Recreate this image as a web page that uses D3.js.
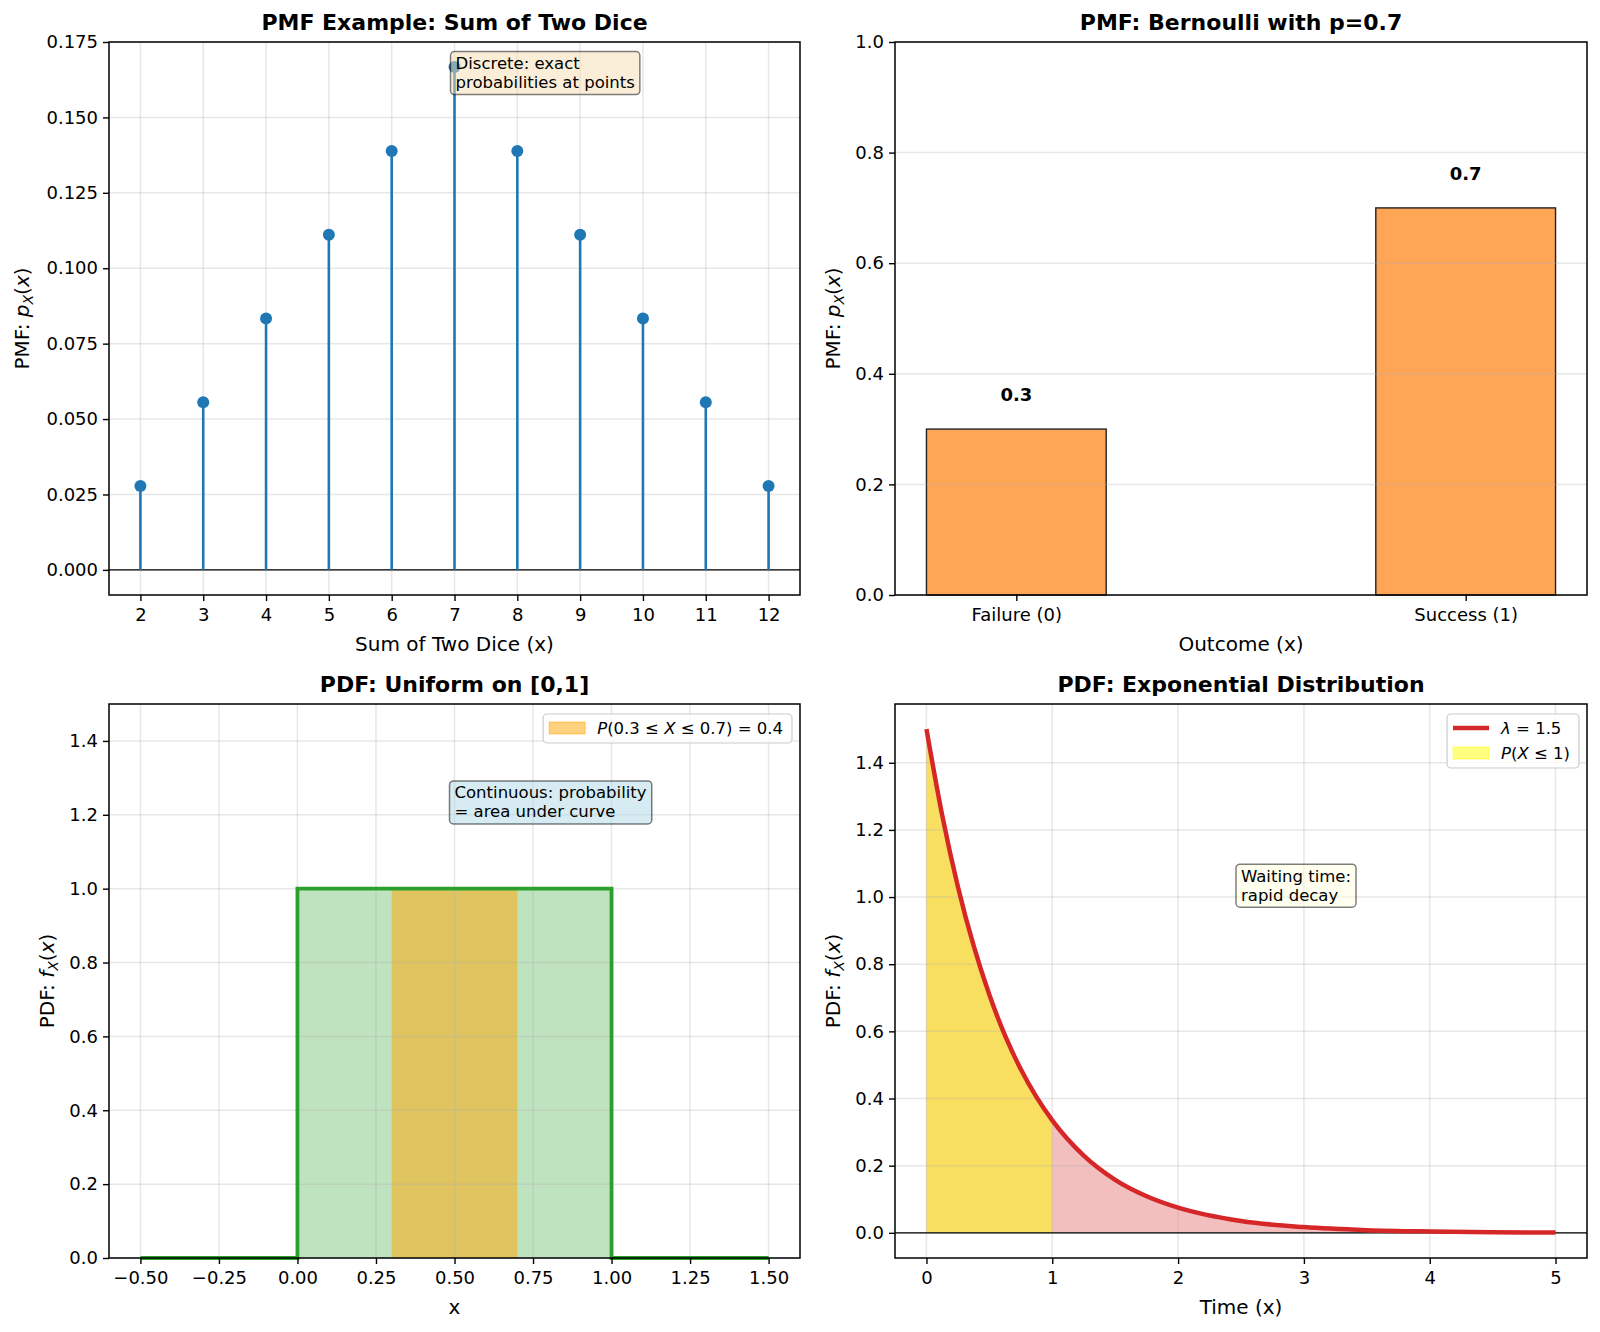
<!DOCTYPE html>
<html>
<head>
<meta charset="UTF-8">
<script src="https://d3js.org/d3.v7.min.js"></script>
<style>
    body { margin: 0; background: #fff; }
    text { font-family: "DejaVu Sans", sans-serif; fill: #000; }
</style>
</head>
<body>
<svg id="chart" width="1600" height="1332"></svg>
<script>
// ---- data: sum of two dice ----
const diceSums = [2, 3, 4, 5, 6, 7, 8, 9, 10, 11, 12];
const diceProbs = [0.0278, 0.0556, 0.0833, 0.1111, 0.1389, 0.1667, 0.1389, 0.1111, 0.0833, 0.0556, 0.0278];
const diceYTicks = [0, 0.025, 0.05, 0.075, 0.1, 0.125, 0.15, 0.175];
const diceYLabels = ["0.000", "0.025", "0.050", "0.075", "0.100", "0.125", "0.150", "0.175"];

// ---- data: bernoulli ----
const bernPos = [0, 1];
const bernCats = ["Failure (0)", "Success (1)"];
const bernVals = [0.3, 0.7];
const bernYTicks = [0, 0.2, 0.4, 0.6, 0.8, 1.0];
const bernYLabels = ["0.0", "0.2", "0.4", "0.6", "0.8", "1.0"];

// ---- data: uniform ----
const unifX = [-0.5, 0, 0, 1, 1, 1.5];
const unifY = [0, 0, 1, 1, 0, 0];
const unifShadeX = [0.3, 0.7];
const unifShadeY = [1, 1];
const unifXTicks = [-0.5, -0.25, 0, 0.25, 0.5, 0.75, 1, 1.25, 1.5];
const unifXLabels = ["\u22120.50", "\u22120.25", "0.00", "0.25", "0.50", "0.75", "1.00", "1.25", "1.50"];
const unifYTicks = [0, 0.2, 0.4, 0.6, 0.8, 1.0, 1.2, 1.4];
const unifYLabels = ["0.0", "0.2", "0.4", "0.6", "0.8", "1.0", "1.2", "1.4"];

// ---- data: exponential, lambda = 1.5 ----
const expX = [0, 0.125, 0.25, 0.375, 0.5, 0.625, 0.75, 0.875, 1, 1.25, 1.5, 1.75, 2, 2.5, 3, 3.5, 4, 4.5, 5];
const expY = [1.5, 1.244, 1.031, 0.855, 0.709, 0.587, 0.487, 0.404, 0.335, 0.230, 0.158, 0.109, 0.075, 0.035, 0.017, 0.008, 0.004, 0.0018, 0.0008];
const expShadeMax = 1;
const expXTicks = [0, 1, 2, 3, 4, 5];
const expXLabels = ["0", "1", "2", "3", "4", "5"];
const expYTicks = [0, 0.2, 0.4, 0.6, 0.8, 1.0, 1.2, 1.4];
const expYLabels = ["0.0", "0.2", "0.4", "0.6", "0.8", "1.0", "1.2", "1.4"];

const svg = d3.select("#chart");
const TICK = 18, LABEL = 20, TITLE = 22, SMALL = 16.5;

const P1 = {l: 109, r: 800, t: 42, b: 595};
const P2 = {l: 895, r: 1587, t: 42, b: 595};
const P3 = {l: 109, r: 800, t: 704, b: 1258};
const P4 = {l: 895, r: 1587, t: 704, b: 1258};

function drawGrid(g, p, x, y, xt, yt) {
    if (xt) xt.forEach(v => g.append("line")
        .attr("x1", x(v)).attr("x2", x(v)).attr("y1", p.t).attr("y2", p.b)
        .attr("stroke", "#b0b0b0").attr("stroke-opacity", 0.3).attr("stroke-width", 1.5));
    if (yt) yt.forEach(v => g.append("line")
        .attr("x1", p.l).attr("x2", p.r).attr("y1", y(v)).attr("y2", y(v))
        .attr("stroke", "#b0b0b0").attr("stroke-opacity", 0.3).attr("stroke-width", 1.5));
}

function drawAxes(g, p, x, y, xt, xl, yt, yl) {
    const ax = g.append("g").attr("transform", `translate(0,${p.b})`)
        .call(d3.axisBottom(x).tickValues(xt).tickFormat((d, i) => xl[i]).tickSize(6).tickPadding(7).tickSizeOuter(0));
    const ay = g.append("g").attr("transform", `translate(${p.l},0)`)
        .call(d3.axisLeft(y).tickValues(yt).tickFormat((d, i) => yl[i]).tickSize(6).tickPadding(5).tickSizeOuter(0));
    [ax, ay].forEach(a => {
        a.select(".domain").remove();
        a.selectAll(".tick line").attr("stroke", "#000").attr("stroke-width", 1.4);
        a.selectAll(".tick text").style("font-family", "DejaVu Sans").style("font-size", TICK + "px").attr("fill", "#000");
    });
    g.append("rect").attr("x", p.l).attr("y", p.t).attr("width", p.r - p.l).attr("height", p.b - p.t)
        .attr("fill", "none").attr("stroke", "#000").attr("stroke-width", 1.5);
}

function title(g, p, txt) {
    g.append("text").attr("x", (p.l + p.r) / 2).attr("y", p.t - 12)
        .attr("text-anchor", "middle").style("font-size", TITLE + "px").style("font-weight", "bold").text(txt);
}

function xLabel(g, p, txt) {
    g.append("text").attr("x", (p.l + p.r) / 2).attr("y", p.b + 56)
        .attr("text-anchor", "middle").style("font-size", LABEL + "px").text(txt);
}

// parts: {t, i (italic), sub}
function mathText(t, parts, fs) {
    let shifted = false;
    parts.forEach(pt => {
        const s = t.append("tspan").text(pt.t);
        if (pt.i) s.style("font-style", "italic");
        if (pt.sub) {
            s.style("font-size", (fs * 0.7) + "px").attr("dy", fs * 0.22);
            shifted = true;
        } else if (shifted) {
            s.attr("dy", -fs * 0.22);
            shifted = false;
        }
    });
    return t;
}

function yLabel(g, p, xPos, parts) {
    const t = g.append("text")
        .attr("transform", `translate(${xPos},${(p.t + p.b) / 2}) rotate(-90)`)
        .attr("text-anchor", "middle").style("font-size", LABEL + "px");
    mathText(t, parts, LABEL);
}

function textBox(g, x0, y0, lines, fill) {
    const bg = g.append("g");
    const box = bg.append("rect");
    const t = bg.append("text").style("font-size", SMALL + "px");
    lines.forEach((ln, i) => t.append("tspan").attr("x", x0).attr("y", y0 + 13.5 + i * 19).text(ln));
    const w = t.node().getBBox().width;
    box.attr("x", x0 - 5).attr("y", y0 - 4).attr("width", w + 10).attr("height", 43)
        .attr("rx", 4).attr("fill", fill).attr("stroke", "#000").attr("stroke-opacity", 0.5).attr("stroke-width", 1.5);
}

function legend(g, p, items) {
    const lg = g.append("g");
    const box = lg.append("rect");
    const top = p.t + 10, rowH = 25;
    const texts = items.map((it, i) => {
        const t = lg.append("text").attr("y", top + 14 + i * rowH + 6).style("font-size", SMALL + "px");
        mathText(t, it.parts, SMALL);
        return t;
    });
    const tw = d3.max(texts, t => t.node().getBBox().width);
    const w = 6 + 36 + 12 + tw + 9;
    const left = p.r - 8 - w;
    box.attr("x", left).attr("y", top).attr("width", w).attr("height", 4 + items.length * rowH)
        .attr("rx", 4).attr("fill", "#fff").attr("fill-opacity", 0.8).attr("stroke", "#cccccc").attr("stroke-width", 1.2);
    items.forEach((it, i) => {
        const cy = top + 14 + i * rowH;
        if (it.type === "line") {
            lg.append("line").attr("x1", left + 6).attr("x2", left + 42).attr("y1", cy).attr("y2", cy)
                .attr("stroke", it.color).attr("stroke-width", 4.5);
        } else {
            lg.append("rect").attr("x", left + 6).attr("y", cy - 6).attr("width", 36).attr("height", 12)
                .attr("fill", it.color).attr("fill-opacity", it.alpha).attr("stroke", it.color).attr("stroke-opacity", it.alpha);
        }
        texts[i].attr("x", left + 6 + 36 + 12);
    });
}

// ===== Panel 1: dice stems =====
{
    const g = svg.append("g");
    const x = d3.scaleLinear().domain([1.5, 12.5]).range([P1.l, P1.r]);
    const y = d3.scaleLinear().domain([-0.00833, 0.175]).range([P1.b, P1.t]);
    drawGrid(g, P1, x, y, diceSums, diceYTicks);
    g.append("line").attr("x1", P1.l).attr("x2", P1.r).attr("y1", y(0)).attr("y2", y(0))
        .attr("stroke", "#000").attr("stroke-width", 1.2);
    g.selectAll(".stem").data(diceSums).enter().append("line")
        .attr("x1", d => x(d)).attr("x2", d => x(d))
        .attr("y1", y(0)).attr("y2", (d, i) => y(diceProbs[i]))
        .attr("stroke", "#1f77b4").attr("stroke-width", 2.6);
    g.selectAll(".dot").data(diceSums).enter().append("circle")
        .attr("cx", d => x(d)).attr("cy", (d, i) => y(diceProbs[i])).attr("r", 6)
        .attr("fill", "#1f77b4");
    textBox(g, x(7) + 1, y(0.1705), ["Discrete: exact", "probabilities at points"], "rgba(245,222,179,0.5)");
    title(g, P1, "PMF Example: Sum of Two Dice");
    xLabel(g, P1, "Sum of Two Dice (x)");
    yLabel(g, P1, 29, [{t: "PMF: "}, {t: "p", i: true}, {t: "X", i: true, sub: true}, {t: "("}, {t: "x", i: true}, {t: ")"}]);
    drawAxes(g, P1, x, y, diceSums, diceSums.map(String), diceYTicks, diceYLabels);
}

// ===== Panel 2: bernoulli bars =====
{
    const g = svg.append("g");
    const x = d3.scaleLinear().domain([-0.27, 1.27]).range([P2.l, P2.r]);
    const y = d3.scaleLinear().domain([0, 1]).range([P2.b, P2.t]);
    g.selectAll(".bar").data(bernPos).enter().append("rect")
        .attr("x", d => x(d - 0.2)).attr("width", x(0.4) - x(0))
        .attr("y", (d, i) => y(bernVals[i])).attr("height", (d, i) => y(0) - y(bernVals[i]))
        .attr("fill", "#ffa556").attr("stroke", "#222").attr("stroke-width", 1.4);
    drawGrid(g, P2, x, y, null, bernYTicks);
    g.selectAll(".lbl").data(bernPos).enter().append("text")
        .attr("x", d => x(d)).attr("y", (d, i) => y(bernVals[i] + 0.05))
        .attr("text-anchor", "middle").style("font-size", "18px").style("font-weight", "bold")
        .text((d, i) => bernVals[i]);
    title(g, P2, "PMF: Bernoulli with p=0.7");
    xLabel(g, P2, "Outcome (x)");
    yLabel(g, P2, 840, [{t: "PMF: "}, {t: "p", i: true}, {t: "X", i: true, sub: true}, {t: "("}, {t: "x", i: true}, {t: ")"}]);
    drawAxes(g, P2, x, y, bernPos, bernCats, bernYTicks, bernYLabels);
}

// ===== Panel 3: uniform PDF =====
{
    const g = svg.append("g");
    const x = d3.scaleLinear().domain([-0.6, 1.6]).range([P3.l, P3.r]);
    const y = d3.scaleLinear().domain([0, 1.5]).range([P3.b, P3.t]);
    const pts = unifX.map((v, i) => [v, unifY[i]]);
    const area = d3.area().x(d => x(d[0])).y0(y(0)).y1(d => y(d[1]));
    g.append("path").attr("d", area(pts)).attr("fill", "#2ca02c").attr("fill-opacity", 0.3);
    g.append("path").attr("d", area(unifShadeX.map((v, i) => [v, unifShadeY[i]])))
        .attr("fill", "#ffa500").attr("fill-opacity", 0.5);
    drawGrid(g, P3, x, y, unifXTicks, unifYTicks);
    g.append("path").attr("d", d3.line().x(d => x(d[0])).y(d => y(d[1]))(pts))
        .attr("fill", "none").attr("stroke", "#2ca02c").attr("stroke-width", 3.8);
    textBox(g, x(0.5), y(1.281), ["Continuous: probability", "= area under curve"], "rgba(173,216,230,0.5)");
    legend(g, P3, [{type: "patch", color: "#ffa500", alpha: 0.5,
        parts: [{t: "P", i: true}, {t: "(0.3 \u2264 "}, {t: "X", i: true}, {t: " \u2264 0.7) = 0.4"}]}]);
    title(g, P3, "PDF: Uniform on [0,1]");
    xLabel(g, P3, "x");
    yLabel(g, P3, 54, [{t: "PDF: "}, {t: "f", i: true}, {t: "X", i: true, sub: true}, {t: "("}, {t: "x", i: true}, {t: ")"}]);
    drawAxes(g, P3, x, y, unifXTicks, unifXLabels, unifYTicks, unifYLabels);
}

// ===== Panel 4: exponential PDF =====
{
    const g = svg.append("g");
    const x = d3.scaleLinear().domain([-0.25, 5.25]).range([P4.l, P4.r]);
    const y = d3.scaleLinear().domain([-0.075, 1.575]).range([P4.b, P4.t]);
    const pts = expX.map((v, i) => [v, expY[i]]);
    const area = d3.area().curve(d3.curveMonotoneX).x(d => x(d[0])).y0(y(0)).y1(d => y(d[1]));
    g.append("path").attr("d", area(pts)).attr("fill", "#d62728").attr("fill-opacity", 0.3);
    g.append("path").attr("d", area(pts.filter(d => d[0] <= expShadeMax)))
        .attr("fill", "#ffff00").attr("fill-opacity", 0.5);
    drawGrid(g, P4, x, y, expXTicks, expYTicks);
    g.append("line").attr("x1", P4.l).attr("x2", P4.r).attr("y1", y(0)).attr("y2", y(0))
        .attr("stroke", "#000").attr("stroke-width", 1.2);
    g.append("path").attr("d", d3.line().curve(d3.curveMonotoneX).x(d => x(d[0])).y(d => y(d[1]))(pts))
        .attr("fill", "none").attr("stroke", "#d62728").attr("stroke-width", 4.5);
    textBox(g, x(2.5), y(1.086), ["Waiting time:", "rapid decay"], "rgba(255,255,224,0.5)");
    legend(g, P4, [
        {type: "line", color: "#d62728", parts: [{t: "\u03bb", i: true}, {t: " = 1.5"}]},
        {type: "patch", color: "#ffff00", alpha: 0.5, parts: [{t: "P", i: true}, {t: "("}, {t: "X", i: true}, {t: " \u2264 1)"}]}
    ]);
    title(g, P4, "PDF: Exponential Distribution");
    xLabel(g, P4, "Time (x)");
    yLabel(g, P4, 840, [{t: "PDF: "}, {t: "f", i: true}, {t: "X", i: true, sub: true}, {t: "("}, {t: "x", i: true}, {t: ")"}]);
    drawAxes(g, P4, x, y, expXTicks, expXLabels, expYTicks, expYLabels);
}
</script>
</body>
</html>
